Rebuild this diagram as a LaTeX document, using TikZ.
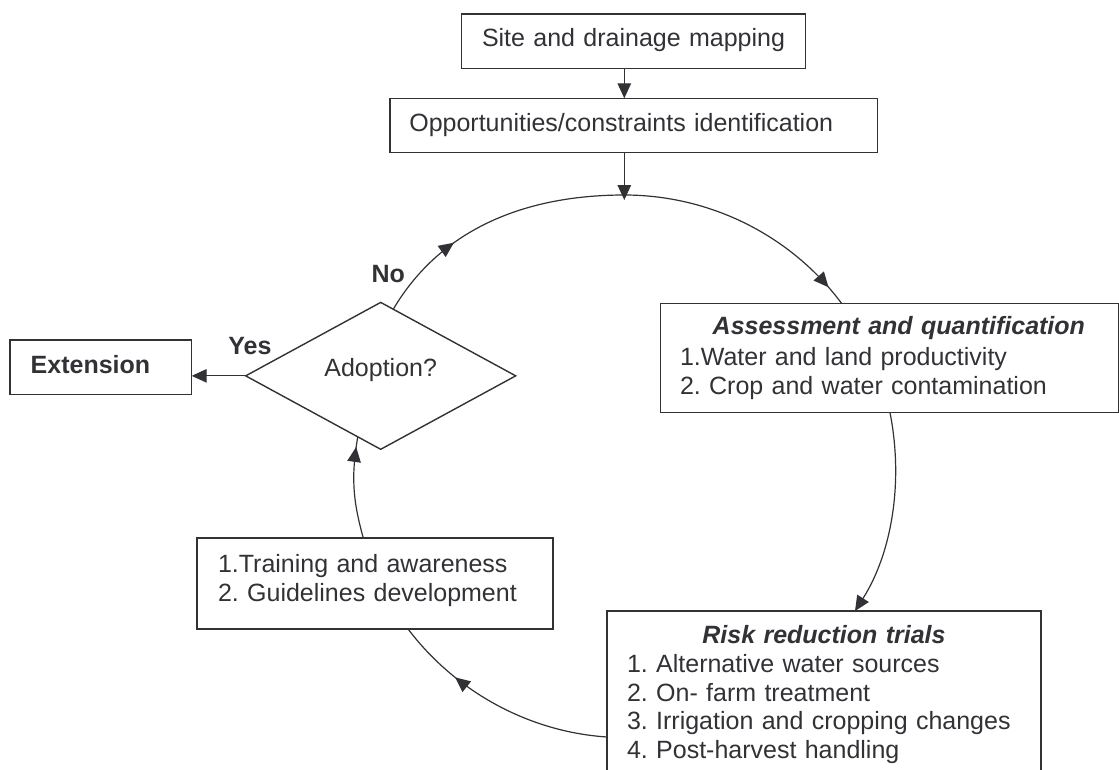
\documentclass[tikz,border=0pt]{standalone}
\usepackage{fontspec}
\setmainfont{Liberation Sans}
\usetikzlibrary{shapes.geometric,arrows.meta,decorations.markings,calc}
\definecolor{ink}{RGB}{50,50,54}
\frenchspacing
\begin{document}
\begin{tikzpicture}[x=1pt,y=1pt,
  every node/.style={text=ink},
  txt/.style={font=\fontsize{25}{28.5}\selectfont\frenchspacing},
  box/.style={draw=ink, line width=1.4pt, rectangle, outer sep=0pt, inner ysep=0pt, anchor=north west, align=left, txt},
  conn/.style={ink, line width=1.2pt},
  endarrow/.style={-{Triangle[length=15pt,width=13.5pt]}},
  midarrow/.style={postaction={decorate}, decoration={markings, mark=at position #1 with {\arrow{Triangle[length=15pt,width=13.5pt]}}}},
]
\useasboundingbox (0,0) rectangle (1119,-769);
\clip (0,0) rectangle (1119,-769);

% boxes
\node[box, text width=303.4pt, inner xsep=20.3pt, minimum height=54.3pt, text height=18pt, text depth=6.9pt] (site) at (461.7,-14) {Site and drainage mapping};
\node[box, text width=449.1pt, inner xsep=19.3pt, minimum height=54.4pt, text height=18pt, text depth=5.6pt] (opp) at (390,-98.3) {Opportunities/constraints identification};
\node[box, text width=140.3pt, inner xsep=20.7pt, minimum height=54.3pt, text height=18pt, text depth=5.7pt] (ext) at (10,-340) {\textbf{Extension}};
\node[diamond, draw=ink, line width=1.4pt, outer sep=0pt, inner sep=0pt, minimum width=270pt, minimum height=106.3pt, text height=18pt, text depth=16.3pt, txt] (adopt) at (380.7,-375.85) {Adoption?};
\node[box, text width=419pt, inner xsep=19.3pt, minimum height=109.2pt] (assess) at (660.7,-303.5) {\hspace*{32.7pt}\textbf{\textit{Assessment and quantification}}\\[2.2pt]1.Water and land productivity\\2. Crop and water contamination};
\node[box, text width=394pt, inner xsep=20pt, inner ysep=14.1pt] (risk) at (607,-611) {\makebox[394pt][c]{\textbf{\textit{Risk reduction trials}}}\\[0.9pt]1. Alternative water sources\\2. On- farm treatment\\3. Irrigation and cropping changes\\4. Post-harvest handling\rule[-40pt]{0pt}{40pt}};
\node[box, text width=314pt, inner xsep=21pt, inner ysep=16.5pt] (train) at (197,-538) {1.Training and awareness\\[0.5pt]2. Guidelines development\rule[-10.8pt]{0pt}{10.8pt}};

% labels
\node[txt, anchor=base] (no) at (388.3,-282.7) {\textbf{No}};
\node[txt, anchor=base] (yes) at (249.9,-354.3) {\textbf{Yes}};

% connectors
\coordinate (ctop) at (624.3,-195);
\draw[conn, endarrow] (site.south -| ctop) -- (opp.north -| ctop);
\draw[conn, endarrow, shorten >=-5pt] (opp.south -| ctop) -- (ctop);
\draw[conn, midarrow=0.917] (ctop) .. controls +(0:85.4) and +(126.7:85.4) .. ([xshift=181pt]assess.north west);
\draw[conn, endarrow] ([xshift=229.3pt]assess.south west) .. controls +(-78.8:69.6) and +(57.6:69.6) .. ([xshift=248pt]risk.north west);
\draw[conn, midarrow=0.71] ([yshift=-126pt]risk.north west) .. controls +(176.2:78.6) and +(-52.9:78.6) .. ([xshift=211pt]train.south west);
\draw[conn, midarrow=0.9] ([xshift=166.3pt]train.north west) .. controls +(105.6:39.9) and +(260.4:39.9) .. ($(adopt.west)!0.83!(adopt.south)$);
\draw[conn, midarrow=0.335] ($(adopt.north)!0.093!(adopt.east)$) .. controls +(59.4:95.8) and +(180:95.8) .. (ctop);
\draw[conn, endarrow] (adopt.west) -- (adopt.west -| ext.east);
\end{tikzpicture}
\end{document}
